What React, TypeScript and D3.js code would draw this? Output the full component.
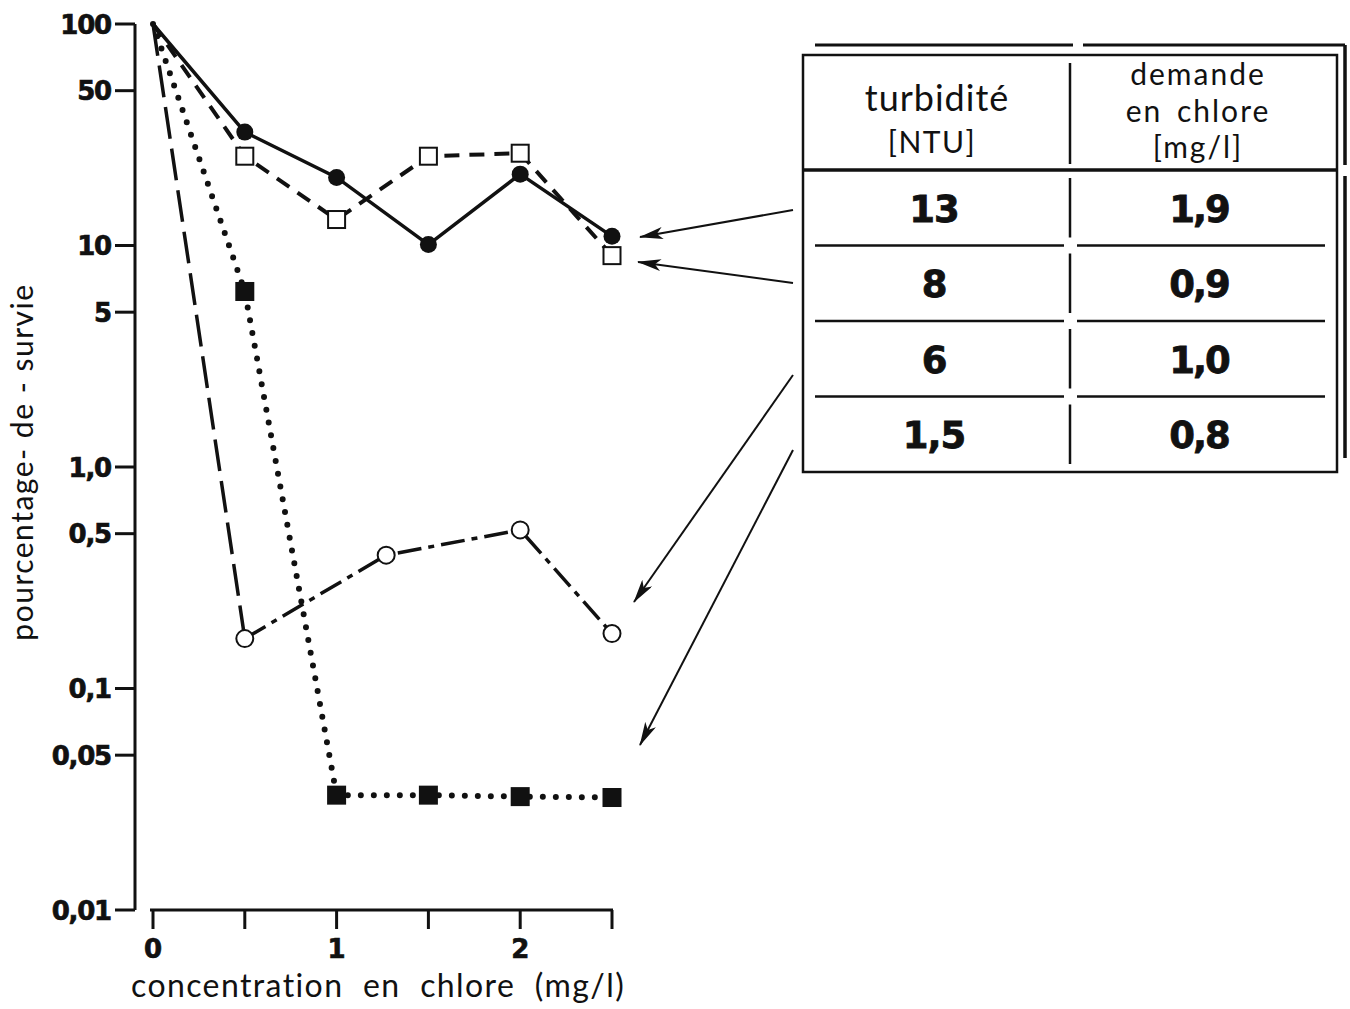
import React from "react";
import * as d3 from "d3";

// ---- data ----
const xTicks = [0, 0.5, 1, 1.5, 2, 2.5];
const xTickLabels = [
  { v: 0, t: "0" },
  { v: 1, t: "1" },
  { v: 2, t: "2" },
];
const yTicks = [
  { v: 100, t: "100" },
  { v: 50, t: "50" },
  { v: 10, t: "10" },
  { v: 5, t: "5" },
  { v: 1, t: "1,0" },
  { v: 0.5, t: "0,5" },
  { v: 0.1, t: "0,1" },
  { v: 0.05, t: "0,05" },
  { v: 0.01, t: "0,01" },
];

// series: turbidity 13 (filled circles, solid)
const sTurb13X = [0, 0.5, 1, 1.5, 2, 2.5];
const sTurb13Y = [100, 32.5, 20.3, 10.1, 21.0, 11.0];
// turbidity 8 (open squares, dashed)
const sTurb8X = [0, 0.5, 1, 1.5, 2, 2.5];
const sTurb8Y = [100, 25.3, 13.1, 25.3, 26.1, 9.0];
// turbidity 6 (open circles, long dash then dash-dot)
const sTurb6X = [0, 0.5, 1.27, 2, 2.5];
const sTurb6Y = [100, 0.168, 0.40, 0.52, 0.177];
// turbidity 1.5 (filled squares, dotted)
const sTurb15X = [0, 0.5, 1, 1.5, 2, 2.5];
const sTurb15Y = [100, 6.2, 0.033, 0.033, 0.0325, 0.0322];

const tableHeadLeft = ["turbidité", "[NTU]"];
const tableHeadRight = ["demande", "en chlore", "[mg/l]"];
const tableTurb = ["13", "8", "6", "1,5"];
const tableDemand = ["1,9", "0,9", "1,0", "0,8"];

const boldFont = "'DejaVu Sans', 'Liberation Sans', Arial, sans-serif";
const lightFont = "Lato, 'Open Sans', sans-serif";

export default function App() {
  const x = d3.scaleLinear().domain([0, 2.5]).range([153, 612]);
  const y = d3.scaleLog().domain([0.01, 100]).range([910, 24]);

  const pts = (xs: number[], ys: number[]) => xs.map((v, i) => [v, ys[i]] as [number, number]);
  const line = d3
    .line<[number, number]>()
    .x((d) => x(d[0]))
    .y((d) => y(d[1]));

  const p13 = pts(sTurb13X, sTurb13Y);
  const p8 = pts(sTurb8X, sTurb8Y);
  const p6 = pts(sTurb6X, sTurb6Y);
  const p15 = pts(sTurb15X, sTurb15Y);

  // table geometry
  const tL = 803, tR = 1337, tT = 55, tB = 472, tMid = 1070, tHead = 170;
  const rowH = (tB - tHead) / 4;
  const rowLines = [1, 2, 3].map((i) => tHead + rowH * i);

  const arrows = [
    { x1: 793, y1: 210, x2: 640, y2: 237 },
    { x1: 793, y1: 283, x2: 638, y2: 262 },
    { x1: 793, y1: 375, x2: 634, y2: 602 },
    { x1: 793, y1: 450, x2: 640, y2: 745 },
  ];

  return (
    <svg width={1350} height={1009} style={{ display: "block", position: "absolute", left: 0, top: 0, background: "#fff" }}>
      <defs>
        <marker id="ah" viewBox="0 0 24 12" refX="23" refY="6" markerWidth="24" markerHeight="12" markerUnits="userSpaceOnUse" orient="auto">
          <path d="M0,0 L24,6 L0,12 L6,6 Z" fill="#111" />
        </marker>
      </defs>
      <rect x={0} y={0} width={1350} height={1009} fill="#fff" />

      {/* y axis */}
      <line x1={135} y1={y(100)} x2={135} y2={y(0.01)} stroke="#111" strokeWidth={3} />
      {yTicks.map((t) => (
        <g key={t.t}>
          <line x1={115} x2={135} y1={y(t.v)} y2={y(t.v)} stroke="#111" strokeWidth={3} />
          <text x={111} y={y(t.v) + 9.5} textAnchor="end" fontFamily={boldFont} fontWeight="bold" fontSize={26} fill="#111" stroke="#111" strokeWidth={0.7} letterSpacing={-1.2}>
            {t.t}
          </text>
        </g>
      ))}
      <text
        transform={`translate(33,${462}) rotate(-90)`}
        textAnchor="middle"
        fontFamily={lightFont}
        fontSize={30}
        fill="#111"
        letterSpacing={1.5}
      >
        pourcentage- de - survie
      </text>

      {/* x axis */}
      <line x1={150} x2={x(2.5) + 1} y1={910} y2={910} stroke="#111" strokeWidth={3} />
      {xTicks.map((v) => (
        <line key={v} x1={x(v)} x2={x(v)} y1={910} y2={929} stroke="#111" strokeWidth={3} />
      ))}
      {xTickLabels.map((t) => (
        <text key={t.t} x={x(t.v)} y={958} textAnchor="middle" fontFamily={boldFont} fontWeight="bold" fontSize={26} fill="#111" stroke="#111" strokeWidth={0.7}>
          {t.t}
        </text>
      ))}
      <text x={131} y={997} textAnchor="start" fontFamily={lightFont} fontSize={32} fill="#111" letterSpacing={1.4} wordSpacing={10}>
        concentration en chlore (mg/l)
      </text>

      {/* series lines */}
      <path d={line(p13) || ""} fill="none" stroke="#111" strokeWidth={3.5} />
      <path d={line(p8) || ""} fill="none" stroke="#111" strokeWidth={4} strokeDasharray="15 10" />
      <path d={line(p6.slice(0, 2)) || ""} fill="none" stroke="#111" strokeWidth={3.5} strokeDasharray="32 10" />
      <path d={line(p6.slice(1)) || ""} fill="none" stroke="#111" strokeWidth={3.5} strokeDasharray="24 7 6 7" />
      <path d={line(p15) || ""} fill="none" stroke="#111" strokeWidth={6} strokeDasharray="0 13" strokeLinecap="round" />

      {/* markers */}
      {p13.slice(1).map((d, i) => (
        <circle key={"c13" + i} cx={x(d[0])} cy={y(d[1])} r={8.5} fill="#111" />
      ))}
      {p8.slice(1).map((d, i) => (
        <rect key={"s8" + i} x={x(d[0]) - 8.5} y={y(d[1]) - 8.5} width={17} height={17} fill="#fff" stroke="#111" strokeWidth={2} />
      ))}
      {p6.slice(1).map((d, i) => (
        <circle key={"c6" + i} cx={x(d[0])} cy={y(d[1])} r={8.5} fill="#fff" stroke="#111" strokeWidth={2} />
      ))}
      {p15.slice(1).map((d, i) => (
        <rect key={"s15" + i} x={x(d[0]) - 9.5} y={y(d[1]) - 9.5} width={19} height={19} fill="#111" />
      ))}

      {/* arrows */}
      {arrows.map((a, i) => (
        <line key={"a" + i} x1={a.x1} y1={a.y1} x2={a.x2} y2={a.y2} stroke="#111" strokeWidth={2} markerEnd="url(#ah)" />
      ))}

      {/* table */}
      <line x1={815} x2={1073} y1={45} y2={45} stroke="#111" strokeWidth={3} />
      <line x1={1083} x2={1345} y1={45} y2={45} stroke="#111" strokeWidth={3} />
      <line x1={1345} x2={1345} y1={45} y2={165} stroke="#111" strokeWidth={3.5} />
      <line x1={1345} x2={1345} y1={176} y2={458} stroke="#111" strokeWidth={3.5} />
      <rect x={tL} y={tT} width={tR - tL} height={tB - tT} fill="none" stroke="#111" strokeWidth={2.5} />
      <line x1={tL} x2={tR} y1={tHead} y2={tHead} stroke="#111" strokeWidth={3.5} />
      <line x1={tMid} x2={tMid} y1={tT + 8} y2={tHead - 6} stroke="#111" strokeWidth={2.5} />
      {[0, 1, 2, 3].map((i) => (
        <line key={"v" + i} x1={tMid} x2={tMid} y1={tHead + rowH * i + 8} y2={tHead + rowH * (i + 1) - 8} stroke="#111" strokeWidth={2.5} />
      ))}
      {rowLines.map((ly, i) => (
        <g key={"r" + i}>
          <line x1={815} x2={1064} y1={ly} y2={ly} stroke="#111" strokeWidth={2.5} />
          <line x1={1077} x2={1325} y1={ly} y2={ly} stroke="#111" strokeWidth={2.5} />
        </g>
      ))}
      <text x={937} y={111} textAnchor="middle" fontFamily={lightFont} fontSize={36} fill="#111" letterSpacing={1}>
        {tableHeadLeft[0]}
      </text>
      <text x={932} y={153} textAnchor="middle" fontFamily={lightFont} fontSize={30} fill="#111" letterSpacing={1.5}>
        {tableHeadLeft[1]}
      </text>
      {tableHeadRight.map((t, i) => (
        <text key={t} x={1198} y={85 + i * 36.5} textAnchor="middle" fontFamily={lightFont} fontSize={30} fill="#111" letterSpacing={2} wordSpacing={5}>
          {t}
        </text>
      ))}
      {tableTurb.map((t, i) => (
        <text key={"tt" + i} x={934} y={tHead + rowH * i + rowH / 2 + 14} textAnchor="middle" fontFamily={boldFont} fontWeight="bold" fontSize={37} fill="#111" stroke="#111" strokeWidth={0.8} letterSpacing={-1}>
          {t}
        </text>
      ))}
      {tableDemand.map((t, i) => (
        <text key={"td" + i} x={1199} y={tHead + rowH * i + rowH / 2 + 14} textAnchor="middle" fontFamily={boldFont} fontWeight="bold" fontSize={37} fill="#111" stroke="#111" strokeWidth={0.8} letterSpacing={-2}>
          {t}
        </text>
      ))}
    </svg>
  );
}
